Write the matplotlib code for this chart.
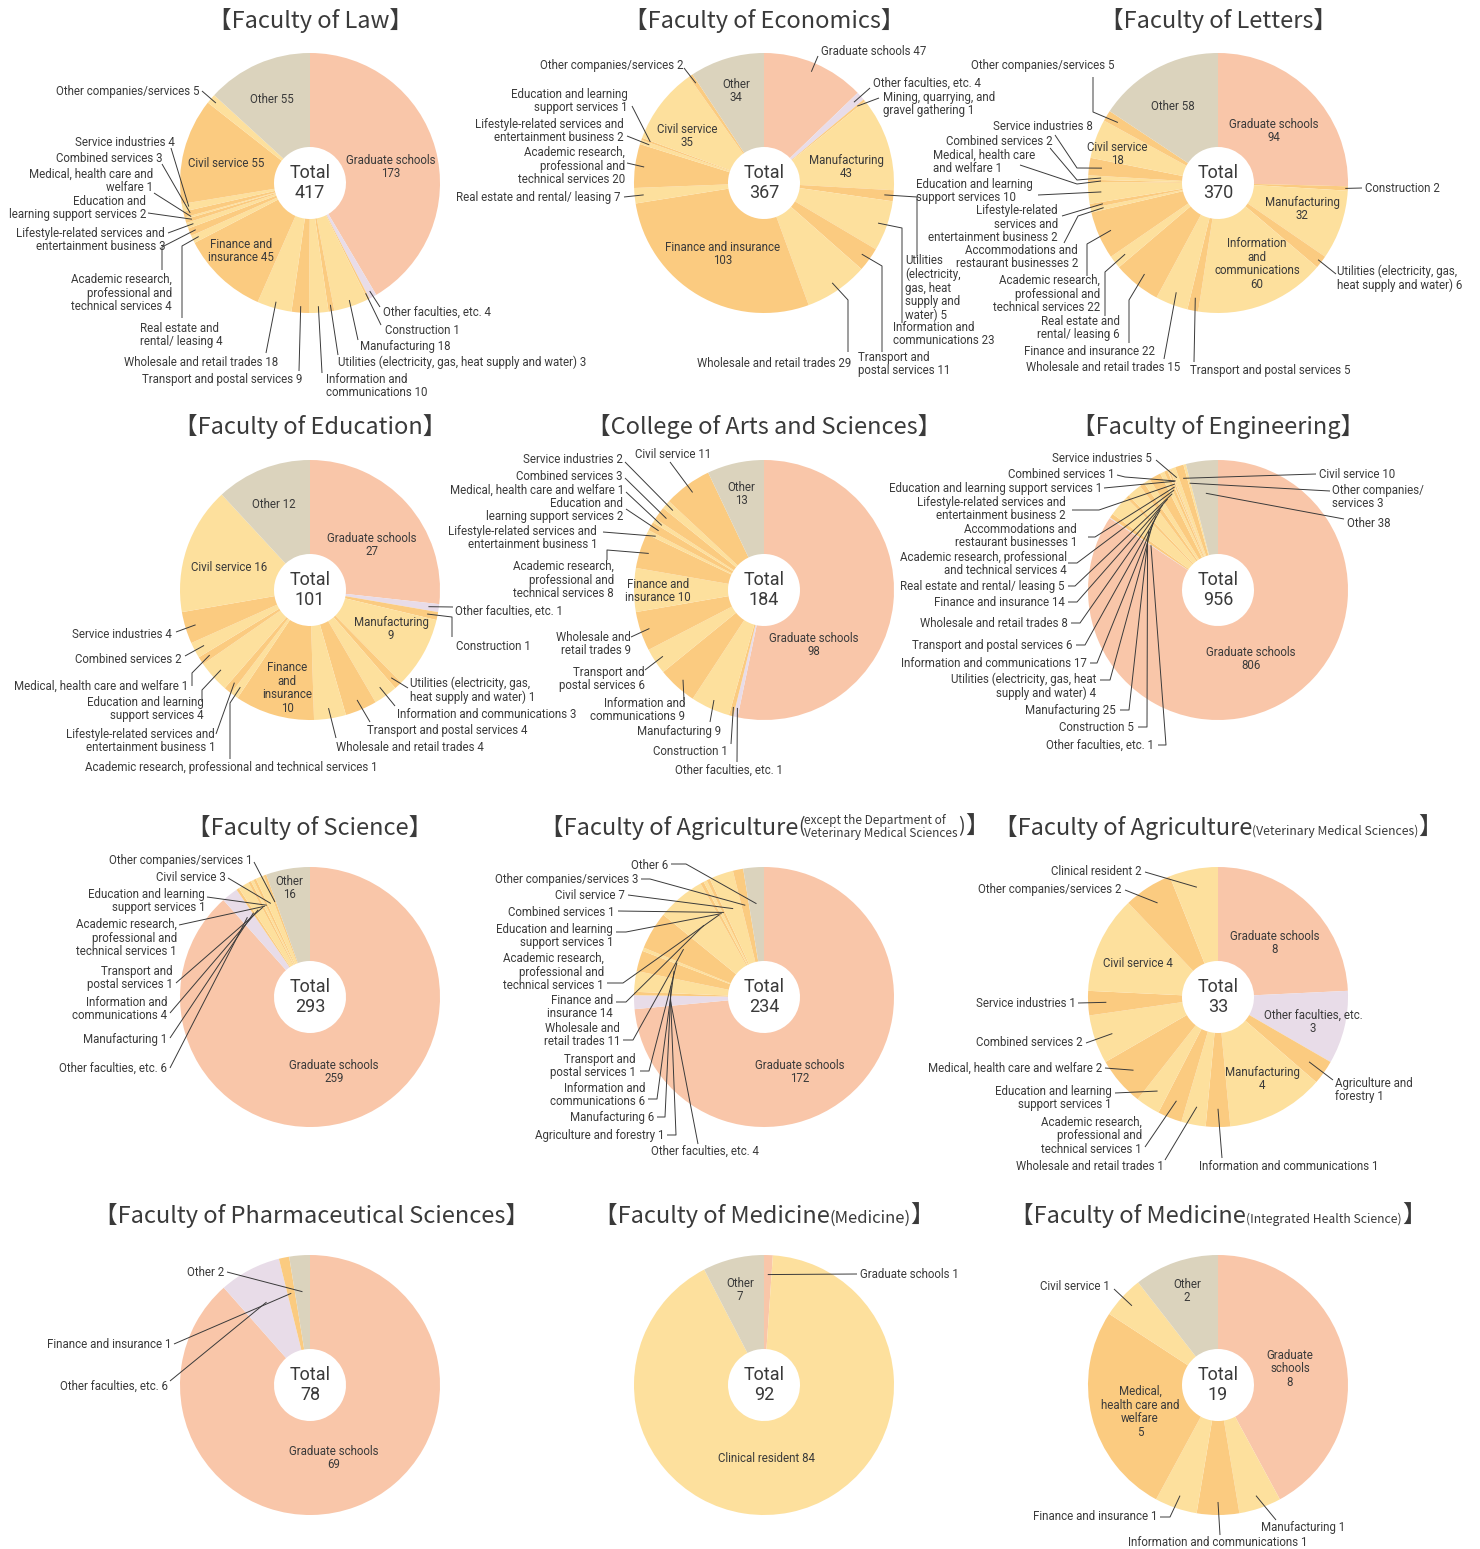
import numpy as np
import matplotlib.pyplot as plt
from matplotlib.offsetbox import TextArea, HPacker, AnnotationBbox

W, H = 1480, 1549
R, R_IN = 130, 36

SALMON = '#f9c6a9'
LAVENDER = '#e8dce8'
TAN = '#dbd3bd'
LIGHT = '#fde09d'
ORANGE = '#fbcb80'
TXT = '#3a3a3a'
LABEL_FONT = ['Roboto', 'DejaVu Sans']
TITLE_FONT = ['Noto Sans CJK JP', 'DejaVu Sans']

# ---------------- data ----------------
law_cats = ['grad', 'otherfac', 'constr', 'manuf', 'util', 'info', 'trans', 'whole', 'fin', 'real',
            'acad', 'life', 'edu', 'med', 'comb', 'serv', 'civil', 'othercomp', 'other']
law_vals = [173, 4, 1, 18, 3, 10, 9, 18, 45, 4, 4, 3, 2, 1, 3, 4, 55, 5, 55]

eco_cats = ['grad', 'otherfac', 'mining', 'manuf', 'util', 'info', 'trans', 'whole', 'fin', 'real',
            'acad', 'life', 'edu', 'civil', 'othercomp', 'other']
eco_vals = [47, 4, 1, 43, 5, 23, 11, 29, 103, 7, 20, 2, 1, 35, 2, 34]

let_cats = ['grad', 'constr', 'manuf', 'util', 'info', 'trans', 'whole', 'fin', 'real', 'acad',
            'accom', 'life', 'edu', 'med', 'comb', 'serv', 'civil', 'othercomp', 'other']
let_vals = [94, 2, 32, 6, 60, 5, 15, 22, 6, 22, 2, 2, 10, 1, 2, 8, 18, 5, 58]

edu_cats = ['grad', 'otherfac', 'constr', 'manuf', 'util', 'info', 'trans', 'whole', 'fin', 'acad',
            'life', 'edu', 'med', 'comb', 'serv', 'civil', 'other']
edu_vals = [27, 1, 1, 9, 1, 3, 4, 4, 10, 1, 1, 4, 1, 2, 4, 16, 12]

cas_cats = ['grad', 'otherfac', 'constr', 'manuf', 'info', 'trans', 'whole', 'fin', 'acad', 'life',
            'edu', 'med', 'comb', 'serv', 'civil', 'other']
cas_vals = [98, 1, 1, 9, 9, 6, 9, 10, 8, 1, 2, 1, 3, 2, 11, 13]

eng_cats = ['grad', 'otherfac', 'constr', 'manuf', 'util', 'info', 'trans', 'whole', 'fin', 'real',
            'acad', 'accom', 'life', 'edu', 'comb', 'serv', 'civil', 'othercomp', 'other']
eng_vals = [806, 1, 5, 25, 4, 17, 6, 8, 14, 5, 4, 1, 2, 1, 1, 5, 10, 3, 38]

sci_cats = ['grad', 'otherfac', 'manuf', 'info', 'trans', 'acad', 'edu', 'civil', 'othercomp', 'other']
sci_vals = [259, 6, 1, 4, 1, 1, 1, 3, 1, 16]

agr_cats = ['grad', 'otherfac', 'agri', 'manuf', 'info', 'trans', 'whole', 'fin', 'acad', 'edu',
            'comb', 'civil', 'othercomp', 'other']
agr_vals = [172, 4, 1, 6, 6, 1, 11, 14, 1, 1, 1, 7, 3, 6]

vet_cats = ['grad', 'otherfac', 'agri', 'manuf', 'info', 'whole', 'acad', 'edu', 'med', 'comb',
            'serv', 'civil', 'othercomp', 'clinical']
vet_vals = [8, 3, 1, 4, 1, 1, 1, 1, 2, 2, 1, 4, 2, 2]

pha_cats = ['grad', 'otherfac', 'fin', 'other']
pha_vals = [69, 6, 1, 2]

med_cats = ['grad', 'clinical', 'other']
med_vals = [1, 84, 7]

ihs_cats = ['grad', 'manuf', 'info', 'fin', 'med', 'civil', 'other']
ihs_vals = [8, 1, 1, 1, 5, 1, 2]

# ---------------- label layout (image pixel coords) ----------------
# key: (text, x, y, ha, leader points from text side, [radius fraction])
law_lab = {
    'grad': ("Graduate schools\n{}", 391, 167, 'center', None),
    'other': ("Other {}", 272, 99, 'center', None),
    'civil': ("Civil service {}", 226, 163, 'center', None),
    'fin': ("Finance and\ninsurance {}", 241, 251, 'center', None),
    'othercomp': ("Other companies/services {}", 200, 91, 'right', [(202, 91)]),
    'serv': ("Service industries {}", 175, 142, 'right', [(171, 148)]),
    'comb': ("Combined services {}", 163, 158, 'right', [(162, 164)]),
    'med': ("Medical, health care and\nwelfare {}", 153, 181, 'right', [(154, 193)]),
    'edu': ("Education and\nlearning support services {}", 146, 208, 'right', [(148, 213)]),
    'life': ("Lifestyle-related services and\nentertainment business {}", 165, 240, 'right', [(168, 233)]),
    'acad': ("Academic research,\nprofessional and\ntechnical services {}", 172, 293, 'right',
             [(162, 270), (162, 247)]),
    'real': ("Real estate and\nrental/ leasing {}", 140, 335, 'left', [(182, 318), (182, 246)]),
    'whole': ("Wholesale and retail trades {}", 278, 362, 'right', [(266, 353)]),
    'trans': ("Transport and postal services {}", 302, 379, 'right', [(299, 371)]),
    'info': ("Information and\ncommunications {}", 326, 386, 'left', [(322, 373)]),
    'util': ("Utilities (electricity, gas, heat supply and water) {}", 338, 362, 'left', [(338, 355)]),
    'manuf': ("Manufacturing {}", 360, 346, 'left', [(358, 340)]),
    'constr': ("Construction {}", 385, 330, 'left', [(381, 325)]),
    'otherfac': ("Other faculties, etc. {}", 383, 312, 'left', [(380, 307)]),
}

eco_lab = {
    'grad': ("Graduate schools {}", 821, 51, 'left', [(818, 56)]),
    'otherfac': ("Other faculties, etc. {}", 873, 83, 'left', [(870, 88)]),
    'mining': ("Mining, quarrying, and\ngravel gathering {}", 883, 104, 'left', [(879, 98)]),
    'manuf': ("Manufacturing\n{}", 846, 167, 'center', None),
    'util': ("Utilities\n(electricity,\ngas, heat\nsupply and\nwater) {}", 905, 288, 'left',
             [(917, 258), (917, 197)]),
    'info': ("Information and\ncommunications {}", 893, 334, 'left', [(902, 323), (902, 228)]),
    'trans': ("Transport and\npostal services {}", 858, 364, 'left', [(882, 352), (882, 266)]),
    'whole': ("Wholesale and retail trades {}", 851, 363, 'right', [(848, 352), (848, 300)]),
    'fin': ("Finance and insurance\n{}", 723, 254, 'center', None),
    'real': ("Real estate and rental/ leasing {}", 621, 197, 'right', [(624, 197)]),
    'acad': ("Academic research,\nprofessional and\ntechnical services {}", 625, 166, 'right', [(627, 163)]),
    'life': ("Lifestyle-related services and\nentertainment business {}", 624, 131, 'right', [(627, 136)]),
    'edu': ("Education and learning\nsupport services {}", 628, 101, 'right', [(632, 106)]),
    'civil': ("Civil service\n{}", 687, 136, 'center', None),
    'othercomp': ("Other companies/services {}", 683, 65, 'right', [(684, 68)]),
    'other': ("Other\n{}", 736, 91, 'center', None),
}

let_lab = {
    'grad': ("Graduate schools\n{}", 1274, 131, 'center', None),
    'constr': ("Construction {}", 1365, 188, 'left', [(1362, 188)], 0.98),
    'manuf': ("Manufacturing\n{}", 1302, 209, 'center', None),
    'util': ("Utilities (electricity, gas,\nheat supply and water) {}", 1337, 278, 'left', [(1336, 274)], 0.97),
    'info': ("Information\nand\ncommunications\n{}", 1257, 264, 'center', None),
    'trans': ("Transport and postal services {}", 1190, 370, 'left', [(1194, 362)]),
    'whole': ("Wholesale and retail trades {}", 1180, 367, 'right', [(1164, 359)]),
    'fin': ("Finance and insurance {}", 1155, 351, 'right', [(1129, 343), (1129, 300)]),
    'real': ("Real estate and\nrental/ leasing {}", 1120, 328, 'right', [(1105, 316), (1105, 272)]),
    'acad': ("Academic research,\nprofessional and\ntechnical services {}", 1100, 294, 'right',
             [(1087, 276), (1087, 244)]),
    'accom': ("Accommodations and\nrestaurant businesses {}", 1078, 257, 'right', [(1064, 243), (1078, 216)]),
    'life': ("Lifestyle-related\nservices and\nentertainment business {}", 1058, 224, 'right', [(1062, 216)]),
    'edu': ("Education and learning\nsupport services {}", 916, 191, 'left', [(1038, 195)]),
    'med': ("Medical, health care\nand welfare {}", 933, 162, 'left', [(1020, 165), (1077, 184)]),
    'comb': ("Combined services {}", 1053, 141, 'right', [(1050, 148), (1077, 180)]),
    'serv': ("Service industries {}", 1093, 126, 'right', [(1055, 135), (1077, 168)]),
    'civil': ("Civil service\n{}", 1117, 154, 'center', None),
    'othercomp': ("Other companies/services {}", 1043, 65, 'center', [(1093, 77), (1093, 112)]),
    'other': ("Other {}", 1173, 106, 'center', None),
}

edu_lab = {
    'grad': ("Graduate schools\n{}", 372, 545, 'center', None),
    'otherfac': ("Other faculties, etc. {}", 455, 611, 'left', [(453, 607)]),
    'constr': ("Construction {}", 456, 646, 'left', [(452, 637), (452, 617)]),
    'manuf': ("Manufacturing\n{}", 391, 629, 'center', None),
    'util': ("Utilities (electricity, gas,\nheat supply and water) {}", 410, 690, 'left', [(408, 688)]),
    'info': ("Information and communications {}", 397, 714, 'left', [(395, 706)]),
    'trans': ("Transport and postal services {}", 367, 730, 'left', [(370, 722)]),
    'whole': ("Wholesale and retail trades {}", 336, 747, 'left', [(336, 738)]),
    'fin': ("Finance\nand\ninsurance\n{}", 287, 688, 'center', None),
    'acad': ("Academic research, professional and technical services {}", 85, 767, 'left',
             [(230, 759), (230, 703)]),
    'life': ("Lifestyle-related services and\nentertainment business {}", 215, 741, 'right', [(216, 734)]),
    'edu': ("Education and learning\nsupport services {}", 204, 709, 'right', [(202, 702), (202, 690)]),
    'med': ("Medical, health care and welfare {}", 188, 686, 'right', [(192, 686), (192, 673)]),
    'comb': ("Combined services {}", 182, 659, 'right', [(185, 656)]),
    'serv': ("Service industries {}", 172, 634, 'right', [(176, 632)]),
    'civil': ("Civil service {}", 229, 567, 'center', None),
    'other': ("Other {}", 274, 504, 'center', None),
}

cas_lab = {
    'grad': ("Graduate schools\n{}", 814, 645, 'center', None),
    'otherfac': ("Other faculties, etc. {}", 783, 770, 'right', [(737, 762)]),
    'constr': ("Construction {}", 728, 751, 'right', [(731, 744)]),
    'manuf': ("Manufacturing {}", 721, 731, 'right', [(710, 722)]),
    'info': ("Information and\ncommunications {}", 685, 710, 'right', [(684, 700)]),
    'trans': ("Transport and\npostal services {}", 645, 679, 'right', [(645, 670)]),
    'whole': ("Wholesale and\nretail trades {}", 631, 644, 'right', [(631, 637)]),
    'fin': ("Finance and\ninsurance {}", 658, 591, 'center', None),
    'acad': ("Academic research,\nprofessional and\ntechnical services {}", 614, 580, 'right',
             [(607, 560), (607, 550)]),
    'life': ("Lifestyle-related services and\nentertainment business {}", 597, 538, 'right', [(603, 532)]),
    'edu': ("Education and\nlearning support services {}", 623, 510, 'right', [(626, 509)]),
    'med': ("Medical, health care and welfare {}", 624, 490, 'right', [(626, 492)]),
    'comb': ("Combined services {}", 623, 476, 'right', [(625, 478)]),
    'serv': ("Service industries {}", 623, 459, 'right', [(625, 462)]),
    'civil': ("Civil service {}", 635, 454, 'left', [(670, 462)]),
    'other': ("Other\n{}", 741, 494, 'center', None),
}

eng_lab = {
    'grad': ("Graduate schools\n{}", 1251, 659, 'center', None),
    'otherfac': ("Other faculties, etc. {}", 1154, 745, 'right', [(1158, 745), (1166, 745)], 0.62),
    'constr': ("Construction {}", 1134, 727, 'right', [(1138, 727), (1147, 727)], 0.66),
    'manuf': ("Manufacturing {}", 1116, 710, 'right', [(1120, 710), (1129, 710)], 0.7),
    'util': ("Utilities (electricity, gas, heat\nsupply and water) {}", 1096, 686, 'right',
             [(1100, 680), (1110, 680)], 0.72),
    'info': ("Information and communications {}", 1087, 663, 'right', [(1090, 663), (1097, 663)], 0.74),
    'trans': ("Transport and postal services {}", 1073, 645, 'right', [(1076, 645), (1085, 645)], 0.76),
    'whole': ("Wholesale and retail trades {}", 1068, 623, 'right', [(1071, 623), (1080, 623)], 0.78),
    'fin': ("Finance and insurance {}", 1065, 602, 'right', [(1068, 602), (1077, 602)], 0.8),
    'real': ("Real estate and rental/ leasing {}", 1065, 586, 'right', [(1068, 586), (1075, 586)], 0.82),
    'acad': ("Academic research, professional\nand technical services {}", 1067, 564, 'right',
             [(1068, 563), (1077, 563)], 0.84),
    'accom': ("Accommodations and\nrestaurant businesses {}", 1077, 536, 'right',
              [(1088, 537), (1095, 537)], 0.86),
    'life': ("Lifestyle-related services and\nentertainment business {}", 1066, 509, 'right',
             [(1072, 510), (1099, 510)], 0.88),
    'edu': ("Education and learning support services {}", 1102, 488, 'right', [(1104, 488)], 0.9),
    'comb': ("Combined services {}", 1114, 474, 'right', [(1117, 475), (1125, 477)], 0.9),
    'serv': ("Service industries {}", 1152, 458, 'right', [(1156, 460)], 0.92),
    'civil': ("Civil service {}", 1319, 474, 'left', [(1316, 474)], 0.9),
    'othercomp': ("Other companies/\nservices {}", 1332, 497, 'left', [(1330, 491)], 0.85),
    'other': ("Other {}", 1347, 523, 'left', [(1344, 519)], 0.75),
}

sci_lab = {
    'grad': ("Graduate schools\n{}", 334, 1072, 'center', None),
    'otherfac': ("Other faculties, etc. {}", 167, 1068, 'right', [(170, 1068)]),
    'manuf': ("Manufacturing {}", 167, 1039, 'right', [(170, 1038)]),
    'info': ("Information and\ncommunications {}", 167, 1009, 'right', [(170, 1013)]),
    'trans': ("Transport and\npostal services {}", 173, 978, 'right', [(176, 983)]),
    'acad': ("Academic research,\nprofessional and\ntechnical services {}", 177, 938, 'right', [(179, 925)]),
    'edu': ("Education and learning\nsupport services {}", 205, 901, 'right', [(207, 897)]),
    'civil': ("Civil service {}", 226, 877, 'right', [(228, 878)]),
    'othercomp': ("Other companies/services {}", 252, 860, 'right', [(254, 862)]),
    'other': ("Other\n{}", 289, 888, 'center', None),
}

agr_lab = {
    'grad': ("Graduate schools\n{}", 800, 1072, 'center', None),
    'otherfac': ("Other faculties, etc. {}", 651, 1151, 'left', [(698, 1144)]),
    'agri': ("Agriculture and forestry {}", 664, 1136, 'right', [(667, 1135), (676, 1135)]),
    'manuf': ("Manufacturing {}", 654, 1118, 'right', [(657, 1117), (665, 1117)]),
    'info': ("Information and\ncommunications {}", 645, 1095, 'right', [(648, 1099), (657, 1099)]),
    'trans': ("Transport and\npostal services {}", 636, 1066, 'right', [(640, 1071), (649, 1071)]),
    'whole': ("Wholesale and\nretail trades {}", 620, 1035, 'right', [(623, 1040), (633, 1040)]),
    'fin': ("Finance and\ninsurance {}", 613, 1007, 'right', [(616, 1002), (626, 1002)]),
    'acad': ("Academic research,\nprofessional and\ntechnical services {}", 604, 972, 'right',
             [(607, 983), (623, 983)]),
    'edu': ("Education and learning\nsupport services {}", 613, 936, 'right', [(616, 932), (626, 932)]),
    'comb': ("Combined services {}", 615, 912, 'right', [(618, 911)]),
    'civil': ("Civil service {}", 625, 895, 'right', [(628, 895)]),
    'othercomp': ("Other companies/services {}", 638, 879, 'right', [(641, 879), (650, 879)]),
    'other': ("Other {}", 668, 865, 'right', [(671, 864), (686, 864)]),
}

vet_lab = {
    'grad': ("Graduate schools\n{}", 1275, 943, 'center', None),
    'otherfac': ("Other faculties, etc.\n{}", 1313, 1022, 'center', None),
    'agri': ("Agriculture and\nforestry {}", 1335, 1090, 'left', [(1333, 1080)]),
    'manuf': ("Manufacturing\n{}", 1262, 1079, 'center', None),
    'info': ("Information and communications {}", 1199, 1167, 'left', [(1222, 1158)]),
    'whole': ("Wholesale and retail trades {}", 1164, 1167, 'right', [(1165, 1160)]),
    'acad': ("Academic research,\nprofessional and\ntechnical services {}", 1142, 1136, 'right', [(1145, 1147)]),
    'edu': ("Education and learning\nsupport services {}", 1112, 1098, 'right', [(1115, 1093)]),
    'med': ("Medical, health care and welfare {}", 1102, 1068, 'right', [(1105, 1068)]),
    'comb': ("Combined services {}", 1083, 1043, 'right', [(1086, 1043)]),
    'serv': ("Service industries {}", 1076, 1003, 'right', [(1078, 1003)]),
    'civil': ("Civil service {}", 1138, 963, 'center', None),
    'othercomp': ("Other companies/services {}", 1122, 889, 'right', [(1125, 890)]),
    'clinical': ("Clinical resident {}", 1142, 871, 'right', [(1145, 872)]),
}

pha_lab = {
    'grad': ("Graduate schools\n{}", 334, 1458, 'center', None),
    'otherfac': ("Other faculties, etc. {}", 168, 1386, 'right', [(170, 1381)]),
    'fin': ("Finance and insurance {}", 171, 1345, 'right', [(174, 1344)]),
    'other': ("Other {}", 224, 1272, 'right', [(227, 1272)]),
}

med_lab = {
    'grad': ("Graduate schools {}", 860, 1274, 'left', [(857, 1274)]),
    'clinical': ("Clinical resident {}", 767, 1458, 'center', None),
    'other': ("Other\n{}", 740, 1290, 'center', None),
}

ihs_lab = {
    'grad': ("Graduate\nschools\n{}", 1290, 1369, 'center', None),
    'manuf': ("Manufacturing {}", 1261, 1528, 'left', [(1276, 1520)]),
    'info': ("Information and communications {}", 1218, 1543, 'center', [(1220, 1535)]),
    'fin': ("Finance and insurance {}", 1157, 1517, 'right', [(1160, 1517), (1170, 1517)]),
    'med': ("Medical,\nhealth care and\nwelfare\n{}", 1140, 1412, 'center', None),
    'civil': ("Civil service {}", 1110, 1287, 'right', [(1114, 1289)]),
    'other': ("Other\n{}", 1187, 1291, 'center', None),
}


def draw_pie(ax, cats, vals, center, layout, rf=0.92, first_light=False):
    cx, cy = center
    cols = []
    k = 0
    for c in cats:
        if c == 'grad':
            cols.append(SALMON)
        elif c == 'otherfac':
            cols.append(LAVENDER)
        elif c == 'other':
            cols.append(TAN)
        else:
            cols.append(LIGHT if (k % 2 == 0) == first_light else ORANGE)
            k += 1
    wedges, _ = ax.pie(vals, colors=cols, startangle=90, counterclock=False,
                       center=(cx, H - cy), radius=R,
                       wedgeprops=dict(width=R - R_IN, linewidth=0))
    ax.text(cx, H - cy, 'Total\n%d' % sum(vals), ha='center', va='center', fontsize=13,
            color=TXT, family=LABEL_FONT, linespacing=1.1)
    for c, v, w in zip(cats, vals, wedges):
        spec = layout[c]
        tpl, tx, ty, ha, pts = spec[:5]
        r = spec[5] if len(spec) > 5 else rf
        ax.text(tx, H - ty, tpl.format(v), ha=ha, va='center', fontsize=8.3, color=TXT,
                family=LABEL_FONT, linespacing=1.05, multialignment=ha)
        if pts:
            a = np.deg2rad((w.theta1 + w.theta2) / 2)
            xs = [p[0] for p in pts] + [cx + r * R * np.cos(a)]
            ys = [H - p[1] for p in pts] + [H - cy + r * R * np.sin(a)]
            ax.plot(xs, ys, color=TXT, lw=0.7, solid_capstyle='butt')


def title(ax, x, y, parts, align='baseline'):
    boxes = [TextArea(t, textprops=dict(fontsize=fs, color=TXT, family=TITLE_FONT, linespacing=0.95))
             for t, fs in parts]
    pack = HPacker(children=boxes, align=align, pad=0, sep=0)
    ab = AnnotationBbox(pack, (x, H - y), frameon=False, box_alignment=(0.5, 0.5), pad=0)
    ax.add_artist(ab)


def main():
    fig = plt.figure(figsize=(W / 100, H / 100), dpi=100)
    ax = fig.add_axes([0, 0, 1, 1])

    draw_pie(ax, law_cats, law_vals, (310, 183), law_lab, rf=0.95)
    draw_pie(ax, eco_cats, eco_vals, (764, 183), eco_lab, rf=0.93)
    draw_pie(ax, let_cats, let_vals, (1218, 183), let_lab, rf=0.9)
    draw_pie(ax, edu_cats, edu_vals, (310, 590), edu_lab, rf=0.92)
    draw_pie(ax, cas_cats, cas_vals, (764, 590), cas_lab, rf=0.93)
    draw_pie(ax, eng_cats, eng_vals, (1218, 590), eng_lab)
    draw_pie(ax, sci_cats, sci_vals, (310, 997), sci_lab, rf=0.78)
    draw_pie(ax, agr_cats, agr_vals, (764, 997), agr_lab, rf=0.72)
    draw_pie(ax, vet_cats, vet_vals, (1218, 997), vet_lab, rf=0.86)
    draw_pie(ax, pha_cats, pha_vals, (310, 1385), pha_lab, rf=0.72)
    draw_pie(ax, med_cats, med_vals, (764, 1385), med_lab, rf=0.85, first_light=True)
    draw_pie(ax, ihs_cats, ihs_vals, (1218, 1385), ihs_lab, rf=0.9, first_light=True)

    big = 17
    title(ax, 310, 20, [("【Faculty of Law】", big)])
    title(ax, 764, 20, [("【Faculty of Economics】", big)])
    title(ax, 1218, 20, [("【Faculty of Letters】", big)])
    title(ax, 310, 426, [("【Faculty of Education】", big)])
    title(ax, 764, 426, [("【College of Arts and Sciences】", big)])
    title(ax, 1218, 426, [("【Faculty of Engineering】", big)])
    title(ax, 310, 827, [("【Faculty of Science】", big)])
    title(ax, 764, 827, [("【Faculty of Agriculture", big), ("(", 14),
                         ("except the Department of\nVeterinary Medical Sciences", 8.5),
                         (")", 14), ("】", big)], align='center')
    title(ax, 1218, 827, [("【Faculty of Agriculture", big), ("(Veterinary Medical Sciences)", 8.8),
                          ("】", big)])
    title(ax, 311, 1215, [("【Faculty of Pharmaceutical Sciences】", big)])
    title(ax, 764, 1215, [("【Faculty of Medicine", big), ("(Medicine)", 12), ("】", big)])
    title(ax, 1218, 1215, [("【Faculty of Medicine", big), ("(Integrated Health Science)", 8.8),
                           ("】", big)])

    ax.set_xlim(0, W)
    ax.set_ylim(0, H)
    ax.set_aspect('equal')
    ax.axis('off')
    fig.savefig('out.png', dpi=100, facecolor='white')


if __name__ == '__main__':
    main()
